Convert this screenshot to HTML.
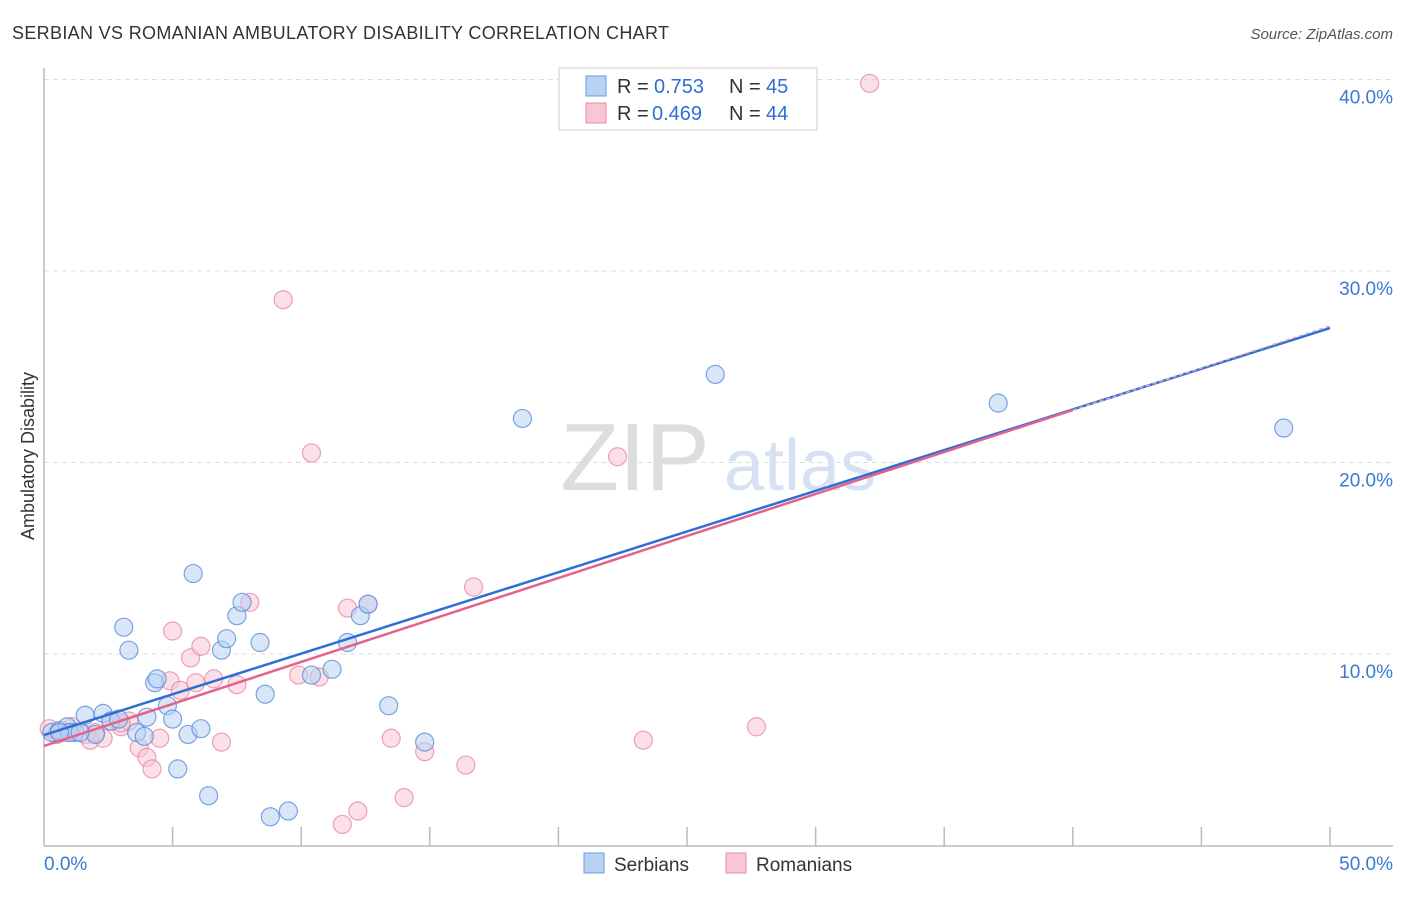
<!DOCTYPE html>
<html><head><meta charset="utf-8"><style>
body{margin:0;background:#fff;font-family:"Liberation Sans",sans-serif}
svg text{font-family:"Liberation Sans",sans-serif}
</style></head><body>
<svg id="c" width="1406" height="892">
<text x="12" y="39" font-size="18" fill="#333" textLength="657">SERBIAN VS ROMANIAN AMBULATORY DISABILITY CORRELATION CHART</text>
<text x="1393" y="39" font-size="15" fill="#555" text-anchor="end" font-style="italic">Source: ZipAtlas.com</text>
<text x="34" y="456" font-size="18" fill="#333" text-anchor="middle" transform="rotate(-90 34 456)">Ambulatory Disability</text>
<g><text x="635" y="490" font-size="96" fill="#ddd" font-family="Liberation Serif" text-anchor="middle">ZIP</text><text x="800" y="490" font-size="72" fill="#d6e2f3" text-anchor="middle">atlas</text></g>
<g id="grid"></g><g id="axes"></g><g id="pts"></g><g id="lines"></g>
<g>
<rect x="559" y="68" width="258" height="62" fill="#fff" stroke="#ccc"/>
<rect x="586" y="76" width="20" height="20" fill="#b8d2f3" stroke="#6a9be0"/>
<text x="617" y="93" font-size="20" fill="#333">R =</text><text x="654" y="93" font-size="20" fill="#2f6fd4">0.753</text>
<text x="729" y="93" font-size="20" fill="#333">N =</text><text x="766" y="93" font-size="20" fill="#2f6fd4">45</text>
<rect x="586" y="103" width="20" height="20" fill="#f8c6d4" stroke="#e98aa6"/>
<text x="617" y="120" font-size="20" fill="#333">R =</text><text x="652" y="120" font-size="20" fill="#2f6fd4">0.469</text>
<text x="729" y="120" font-size="20" fill="#333">N =</text><text x="766" y="120" font-size="20" fill="#2f6fd4">44</text>
</g>
<g>
<rect x="584" y="853" width="20" height="20" fill="#b8d2f3" stroke="#6a9be0"/><text x="614" y="871" font-size="19" fill="#333">Serbians</text>
<rect x="726" y="853" width="20" height="20" fill="#f8c6d4" stroke="#e98aa6"/><text x="756" y="871" font-size="19" fill="#333">Romanians</text>
</g>
</svg>
<script>
const yTicks=[10,20,30,40];
const yTickLabels=["10.0%","20.0%","30.0%","40.0%"];
const xTickLabels=["0.0%","50.0%"];
const serbX=[0.3,0.6,0.9,1.2,1.6,2.0,2.3,2.6,2.9,3.1,3.3,3.6,3.9,4.0,4.3,4.4,4.8,5.0,5.2,5.6,5.8,6.1,6.4,6.9,7.1,7.5,7.7,8.4,8.6,8.8,9.5,10.4,11.2,11.8,12.3,12.6,13.4,14.8,18.6,26.1,37.1,48.2,1.0,0.6,1.4];
const serbY=[5.9,6.0,6.2,5.9,6.8,5.8,6.9,6.5,6.6,11.4,10.2,5.9,5.7,6.7,8.5,8.7,7.3,6.6,4.0,5.8,14.2,6.1,2.6,10.2,10.8,12.0,12.7,10.6,7.9,1.5,1.8,8.9,9.2,10.6,12.0,12.6,7.3,5.4,22.3,24.6,23.1,21.8,5.9,5.9,5.9];
const romX=[0.2,0.5,0.7,1.1,1.6,1.8,2.3,2.6,3.0,3.3,3.7,4.0,4.2,4.5,5.0,4.9,5.3,5.7,5.9,6.1,6.6,6.9,7.5,8.0,9.3,9.9,10.4,10.7,11.6,11.8,12.2,12.6,13.5,14.0,14.8,16.4,16.7,22.3,23.3,27.7,32.1,2.0,3.0,0.9];
const romY=[6.1,5.8,5.9,6.2,5.8,5.5,5.6,6.5,6.2,6.5,5.1,4.6,4.0,5.6,11.2,8.6,8.1,9.8,8.5,10.4,8.7,5.4,8.4,12.7,28.5,8.9,20.5,8.8,1.1,12.4,1.8,12.6,5.6,2.5,4.9,4.2,13.5,20.3,5.5,6.2,39.8,5.9,6.4,5.9];
const regBlue=[5.77,27.02];
const regPink=[5.2,22.74];
const X=v=>44+v/50*1286, Y=v=>845.5-v*19.15;
const NS="http://www.w3.org/2000/svg";
function mk(t,a,p){const e=document.createElementNS(NS,t);for(const k in a)e.setAttribute(k,a[k]);document.getElementById(p).appendChild(e);return e;}
yTicks.forEach((t,i)=>{
 const l=mk('line',{x1:44,x2:1393,y1:Y(t),y2:Y(t),stroke:'#ddd','stroke-dasharray':'5,4'},'grid');
 
 
 const tx=mk('text',{x:1393,y:Y(t)+24,'font-size':19,fill:'#3a78d6','text-anchor':'end'},'axes');tx.textContent=yTickLabels[i];
 
 
});
const ax=mk('line',{x1:44,x2:44,y1:68,y2:846,stroke:'#bbb','stroke-width':1.5},'axes');


const bx=mk('line',{x1:44,x2:1393,y1:846,y2:846,stroke:'#bbb','stroke-width':1.5},'axes');


for(let i=1;i<=10;i++){const t=mk('line',{x1:X(i*5),x2:X(i*5),y1:827,y2:846,stroke:'#bbb','stroke-width':1.5},'axes');
 
 }
[[0,'start',44],[50,'end',1393]].forEach((d,i)=>{const t=mk('text',{x:d[2],y:870,'font-size':19,fill:'#3a78d6','text-anchor':d[1]},'axes');t.textContent=xTickLabels[i];
 
 });
function pts(xs,ys,f,s,n){xs.forEach((x,i)=>{const c=mk('circle',{cx:X(x),cy:Y(ys[i]),r:9,fill:f,'fill-opacity':0.55,stroke:s,'stroke-opacity':0.8,'stroke-width':1.2},'pts');
 
 });}
pts(romX,romY,'#f8c6d4','#e98aa6','romanian-point');
pts(serbX,serbY,'#b8d2f3','#5b8fdc','serbian-point');
const pe=regPink[0]+(regPink[1]-regPink[0])/40*50;
const lb=mk('line',{x1:X(0),y1:Y(regBlue[0]),x2:X(50),y2:Y(regBlue[1]),stroke:'#2e6fd6','stroke-width':2.5},'lines');


const lp=mk('line',{x1:X(0),y1:Y(regPink[0]),x2:X(40),y2:Y(regPink[1]),stroke:'#e4628a','stroke-width':2.5},'lines');


const ld=mk('line',{x1:X(40),y1:Y(regPink[1]),x2:X(50),y2:Y(pe),stroke:'#e4a0b5','stroke-width':1.5,'stroke-dasharray':'4,3'},'lines');


</script>
</body></html>
